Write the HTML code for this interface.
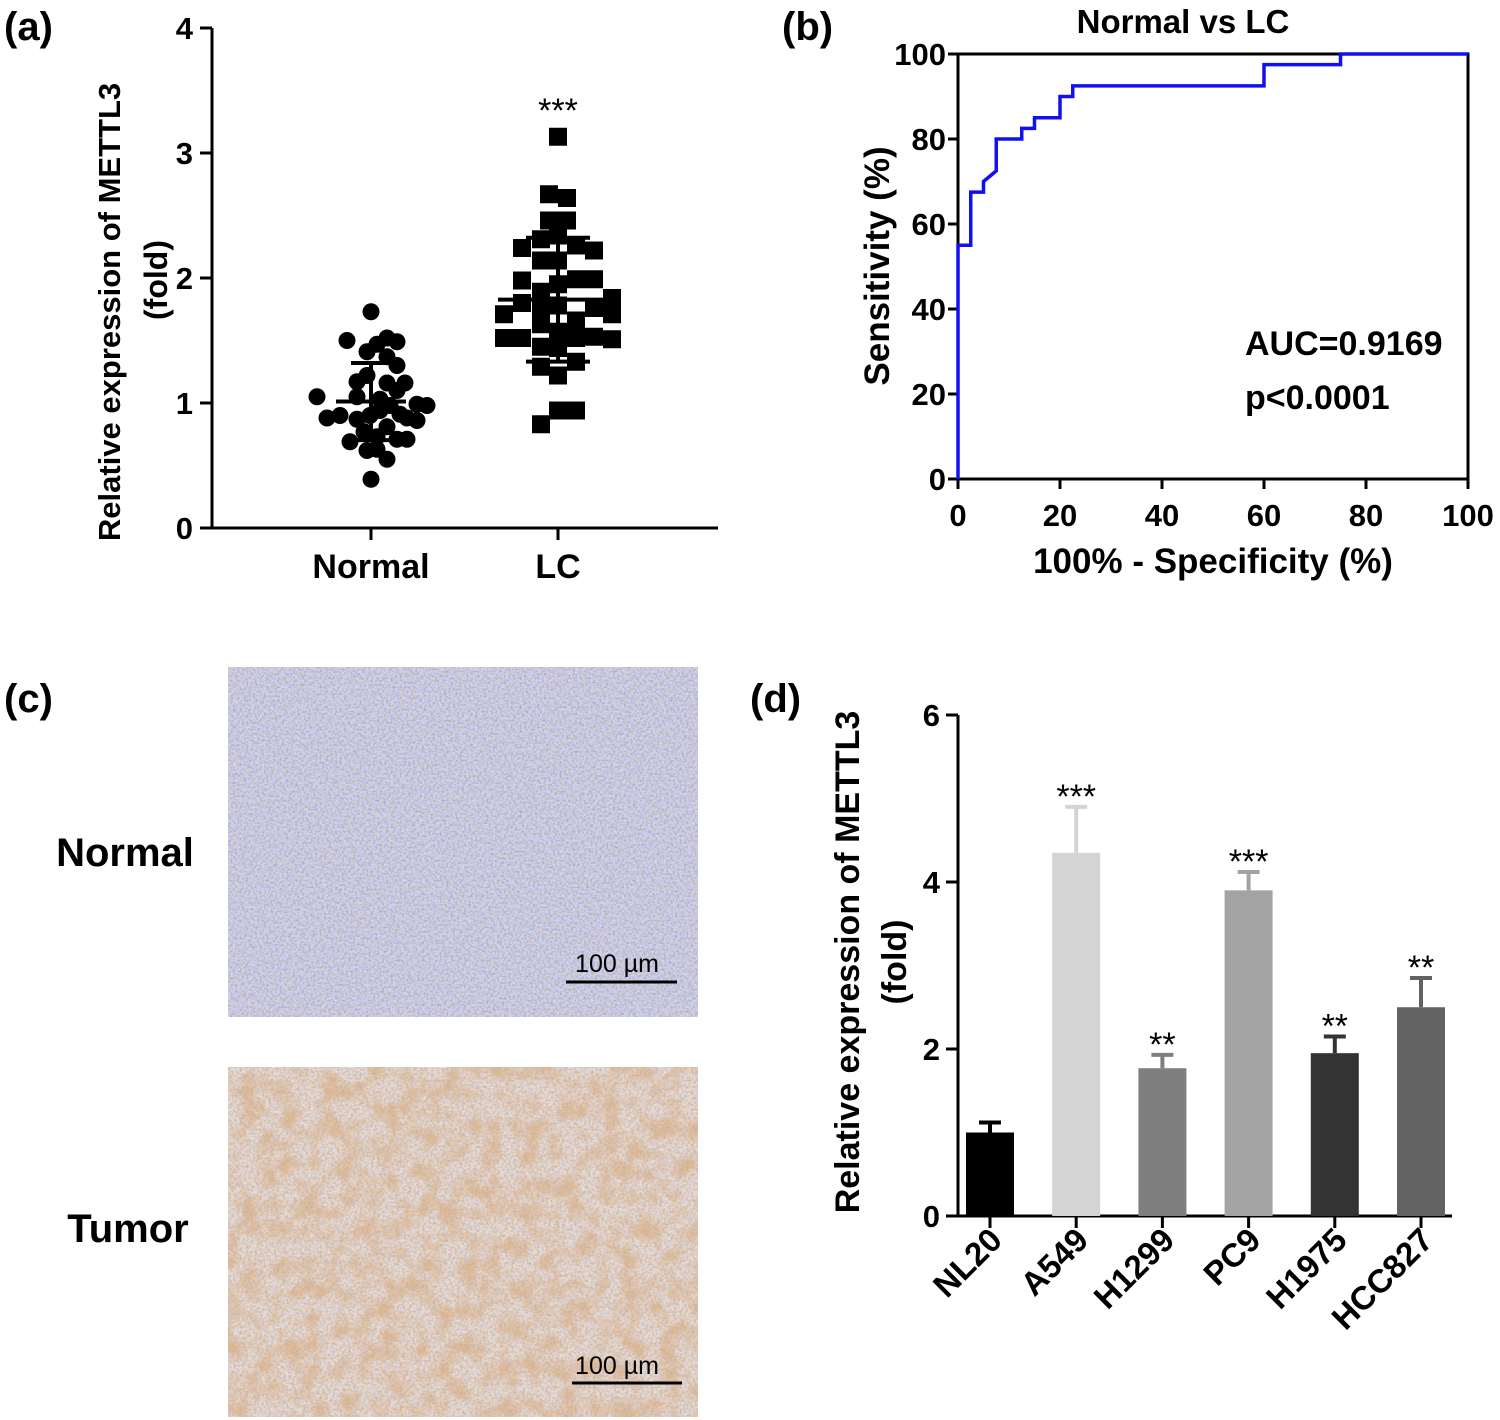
<!DOCTYPE html>
<html><head><meta charset="utf-8">
<style>
html,body{margin:0;padding:0;background:#fff;}
svg{display:block;font-family:"Liberation Sans",Arial,sans-serif;}
text{font-weight:bold;}
</style></head>
<body>
<svg id="fig" width="1500" height="1420" viewBox="0 0 1500 1420" xmlns="http://www.w3.org/2000/svg">
<defs>
<filter id="tex1" x="0" y="0" width="100%" height="100%">
<feTurbulence type="fractalNoise" baseFrequency="0.45" numOctaves="2" seed="3" result="n"/>
<feColorMatrix in="n" type="matrix" values="0 0 0 0 0.35  0 0 0 0 0.38  0 0 0 0 0.72  0 0 0 2.4 -1.0"/>
</filter>
<filter id="tex2" x="0" y="0" width="100%" height="100%">
<feTurbulence type="fractalNoise" baseFrequency="0.05" numOctaves="3" seed="7" result="n"/>
<feColorMatrix in="n" type="matrix" values="0 0 0 0 0.76  0 0 0 0 0.5  0 0 0 0 0.28  0 0 0 2.6 -1.0"/>
</filter>
<filter id="tex3" x="0" y="0" width="100%" height="100%">
<feTurbulence type="fractalNoise" baseFrequency="0.35" numOctaves="2" seed="11" result="n"/>
<feColorMatrix in="n" type="matrix" values="0 0 0 0 0.7  0 0 0 0 0.45  0 0 0 0 0.25  0 0 0 2.4 -1.1"/>
</filter>
</defs>

<text x="4" y="40" font-size="40">(a)</text>
<text x="782" y="40" font-size="40">(b)</text>
<text x="4" y="712" font-size="40">(c)</text>
<text x="750" y="712" font-size="40">(d)</text>

<g id="pa"></g>
<g id="pb"></g>
<g id="pd"></g>

<g>
<text x="125" y="866" font-size="40" text-anchor="middle">Normal</text>
<text x="128" y="1242" font-size="40" text-anchor="middle">Tumor</text>
<g>
<rect x="228" y="667" width="470" height="350" fill="#d0d4ea"/>
<rect x="228" y="667" width="470" height="350" filter="url(#tex1)"/>
<rect x="228" y="667" width="470" height="350" filter="url(#tex3)" opacity="0.7"/>
<text x="617" y="972" font-size="25" style="font-weight:normal" text-anchor="middle">100 µm</text>
<line x1="566" y1="982" x2="677" y2="982" stroke="#000" stroke-width="3"/>
</g>
<g>
<rect x="228" y="1067" width="470" height="350" fill="#e8dcd2"/>
<rect x="228" y="1067" width="470" height="350" filter="url(#tex2)"/>
<rect x="228" y="1067" width="470" height="350" filter="url(#tex1)" opacity="0.6"/>
<rect x="228" y="1067" width="470" height="350" filter="url(#tex3)"/>
<text x="617" y="1374" font-size="25" style="font-weight:normal" text-anchor="middle">100 µm</text>
<line x1="572" y1="1383" x2="682" y2="1383" stroke="#000" stroke-width="3"/>
</g>
</g>
</svg>

<script>
// ---- Panel (a) data ----
const aGroups = ["Normal", "LC"];
const aNormal = [1.73,1.50,1.52,1.49,1.41,1.47,1.37,1.30,1.17,1.22,1.16,1.16,1.10,1.05,1.05,1.03,0.98,0.99,0.98,0.88,0.90,0.87,0.90,0.94,0.91,0.86,0.88,0.81,0.77,0.69,0.73,0.71,0.71,0.62,0.63,0.55,0.39];
const aNormalJitter = [0,-24,16,26,-4,6,16,26,-14,-4,16,34,26,-54,-14,9,56,46,19,-44,-31,-14,-1,9,29,46,36,16,-7,-21,6,26,36,-4,6,16,0];
const aLC = [3.13,2.67,2.64,2.46,2.46,2.31,2.34,2.26,2.22,2.24,2.14,2.14,1.98,1.95,1.99,1.99,1.84,1.80,1.89,1.76,1.78,1.71,1.76,1.71,1.63,1.66,1.57,1.52,1.52,1.52,1.53,1.51,1.45,1.44,1.33,1.29,1.22,0.94,0.94,0.83];
const aLCJitter = [0,-9,9,-9,9,-17,0,18,36,-36,-17,0,-36,0,18,36,54,-36,-17,-17,0,-54,36,54,-17,18,0,-54,-36,18,36,54,-17,0,18,-17,0,0,18,-17];
const aYTicks = [0,1,2,3,4];

// ---- Panel (b) data ----
const rocFpr = [0,0,2.5,2.5,5,5,7.5,7.5,12.5,12.5,15,15,20,20,22.5,22.5,60,60,75,75,100];
const rocTpr = [0,55,55,67.5,67.5,70,72.5,80,80,82.5,82.5,85,85,90,90,92.5,92.5,97.5,97.5,100,100];
const bTicks = [0,20,40,60,80,100];

// ---- Panel (d) data ----
const dCats = ["NL20","A549","H1299","PC9","H1975","HCC827"];
const dVals = [1.0,4.35,1.77,3.9,1.95,2.5];
const dErr = [0.12,0.55,0.16,0.22,0.2,0.35];
const dSig = ["","***","**","***","**","**"];
const dColors = ["#000000","#d4d4d4","#7f7f7f","#a3a3a3","#333333","#626262"];
const dTicks = [0,2,4,6];

const NS = "http://www.w3.org/2000/svg";
function mk(parent, tag, attrs, txt){
  const e = document.createElementNS(NS, tag);
  for (const k in attrs) e.setAttribute(k, attrs[k]);
  if (txt !== undefined) e.textContent = txt;
  parent.appendChild(e);
  return e;
}
function mean(a){return a.reduce((s,v)=>s+v,0)/a.length;}
function sd(a){const m=mean(a);return Math.sqrt(a.reduce((s,v)=>s+(v-m)*(v-m),0)/(a.length-1));}

// ===== Panel a =====
(function(){
  const g = document.getElementById('pa');
  const x0=212, x1=718, y0=528, y1=28;
  const ys = v => y0 - (v/4)*(y0-y1);
  const xc = [371, 558];
  let e;
  e = mk(g,'line',{x1:x0,y1:y0,x2:x1,y2:y0,stroke:'#000','stroke-width':3});
   
  e = mk(g,'line',{x1:x0,y1:y0+1.5,x2:x0,y2:y1,stroke:'#000','stroke-width':3});
   
  aYTicks.forEach(t=>{
    mk(g,'line',{x1:x0-12,y1:ys(t),x2:x0,y2:ys(t),stroke:'#000','stroke-width':3});
    e = mk(g,'text',{x:x0-19,y:ys(t)+11,'font-size':31,'text-anchor':'end'},String(t));
     
  });
  aGroups.forEach((n,i)=>{
    mk(g,'line',{x1:xc[i],y1:y0,x2:xc[i],y2:y0+12,stroke:'#000','stroke-width':3});
    e = mk(g,'text',{x:xc[i],y:578,'font-size':34,'text-anchor':'middle'},n);
     
  });
  e = mk(g,'text',{transform:'translate(120,312) rotate(-90)','font-size':31,'text-anchor':'middle'},'Relative expression of METTL3');
   
  e = mk(g,'text',{transform:'translate(167,280) rotate(-90)','font-size':32,'text-anchor':'middle'},'(fold)');
   
  [[aNormal,0,35,20],[aLC,1,60,32]].forEach(([arr,i,mw,sw])=>{
    const m=mean(arr), s=sd(arr);
    e = mk(g,'line',{x1:xc[i]-mw,y1:ys(m),x2:xc[i]+mw,y2:ys(m),stroke:'#000','stroke-width':4});
     
    [m+s,m-s].forEach(v=>{
      e = mk(g,'line',{x1:xc[i]-sw,y1:ys(v),x2:xc[i]+sw,y2:ys(v),stroke:'#000','stroke-width':4});
       
    });
    mk(g,'line',{x1:xc[i],y1:ys(m+s),x2:xc[i],y2:ys(m-s),stroke:'#000','stroke-width':4});
  });
  aNormal.forEach((v,k)=>{
    e = mk(g,'circle',{cx:xc[0]+aNormalJitter[k],cy:ys(v),r:8.5,fill:'#000'});
     
  });
  aLC.forEach((v,k)=>{
    e = mk(g,'rect',{x:xc[1]+aLCJitter[k]-9,y:ys(v)-9,width:18,height:18,fill:'#000'});
     
  });
  e = mk(g,'text',{x:xc[1],y:122,'font-size':34,style:'font-weight:normal','text-anchor':'middle'},'***');
   
})();

// ===== Panel b =====
(function(){
  const g = document.getElementById('pb');
  const x0=958, x1=1468, y0=479, y1=54;
  const xs = v => x0 + v/100*(x1-x0);
  const ys = v => y0 - v/100*(y0-y1);
  let e;
  e = mk(g,'rect',{x:x0,y:y1,width:x1-x0,height:y0-y1,fill:'none',stroke:'#000','stroke-width':3});
   
  bTicks.forEach(t=>{
    mk(g,'line',{x1:x0-10,y1:ys(t),x2:x0,y2:ys(t),stroke:'#000','stroke-width':3});
    e = mk(g,'text',{x:x0-12,y:ys(t)+11,'font-size':31,'text-anchor':'end'},String(t));
     
    mk(g,'line',{x1:xs(t),y1:y0,x2:xs(t),y2:y0+10,stroke:'#000','stroke-width':3});
    e = mk(g,'text',{x:xs(t),y:526,'font-size':31,'text-anchor':'middle'},String(t));
     
  });
  e = mk(g,'text',{x:1183,y:33,'font-size':33,'text-anchor':'middle'},'Normal vs LC');
   
  e = mk(g,'text',{x:1213,y:573,'font-size':35,'text-anchor':'middle'},'100% - Specificity (%)');
   
  e = mk(g,'text',{transform:'translate(889,266) rotate(-90)','font-size':35,'text-anchor':'middle'},'Sensitivity (%)');
   
  const pts = rocFpr.map((f,i)=>xs(f)+','+ys(rocTpr[i])).join(' ');
  e = mk(g,'polyline',{points:pts,fill:'none',stroke:'#1010f0','stroke-width':3.5});
   
  e = mk(g,'text',{x:1245,y:355,'font-size':34},'AUC=0.9169');
   
  e = mk(g,'text',{x:1245,y:409,'font-size':34},'p<0.0001');
   
})();

// ===== Panel d =====
(function(){
  const g = document.getElementById('pd');
  const x0=958, x1=1452, y0=1216, y1=715;
  const ys = v => y0 - v/6*(y0-y1);
  const xc = i => 990 + i*86.2;
  const bw = 48;
  let e;
  e = mk(g,'line',{x1:x0,y1:y0,x2:x1,y2:y0,stroke:'#000','stroke-width':3});
   
  e = mk(g,'line',{x1:x0,y1:y0+1.5,x2:x0,y2:y1,stroke:'#000','stroke-width':3});
   
  dTicks.forEach(t=>{
    mk(g,'line',{x1:x0-12,y1:ys(t),x2:x0,y2:ys(t),stroke:'#000','stroke-width':3});
    e = mk(g,'text',{x:x0-18,y:ys(t)+11,'font-size':31,'text-anchor':'end'},String(t));
     
  });
  e = mk(g,'text',{transform:'translate(859,962) rotate(-90)','font-size':34,'text-anchor':'middle'},'Relative expression of METTL3');
   
  e = mk(g,'text',{transform:'translate(906,962) rotate(-90)','font-size':34,'text-anchor':'middle'},'(fold)');
   
  dCats.forEach((c,i)=>{
    const x = xc(i);
    const top = dVals[i]+dErr[i];
    mk(g,'line',{x1:x,y1:ys(dVals[i]),x2:x,y2:ys(top),stroke:dColors[i],'stroke-width':4});
    mk(g,'line',{x1:x-11,y1:ys(top),x2:x+11,y2:ys(top),stroke:dColors[i],'stroke-width':4});
    e = mk(g,'rect',{x:x-bw/2,y:ys(dVals[i]),width:bw,height:ys(0)-ys(dVals[i]),fill:dColors[i]});
     
    mk(g,'line',{x1:x,y1:y0,x2:x,y2:y0+12,stroke:'#000','stroke-width':3});
    e = mk(g,'text',{transform:'translate('+(x+14)+','+(y0+26)+') rotate(-45)','font-size':33,'text-anchor':'end'},c);
     
    if (dSig[i]){
      e = mk(g,'text',{x:x,y:ys(top)+1,'font-size':34,style:'font-weight:normal','text-anchor':'middle'},dSig[i]);
       
    }
  });
})();
</script>
</body></html>
